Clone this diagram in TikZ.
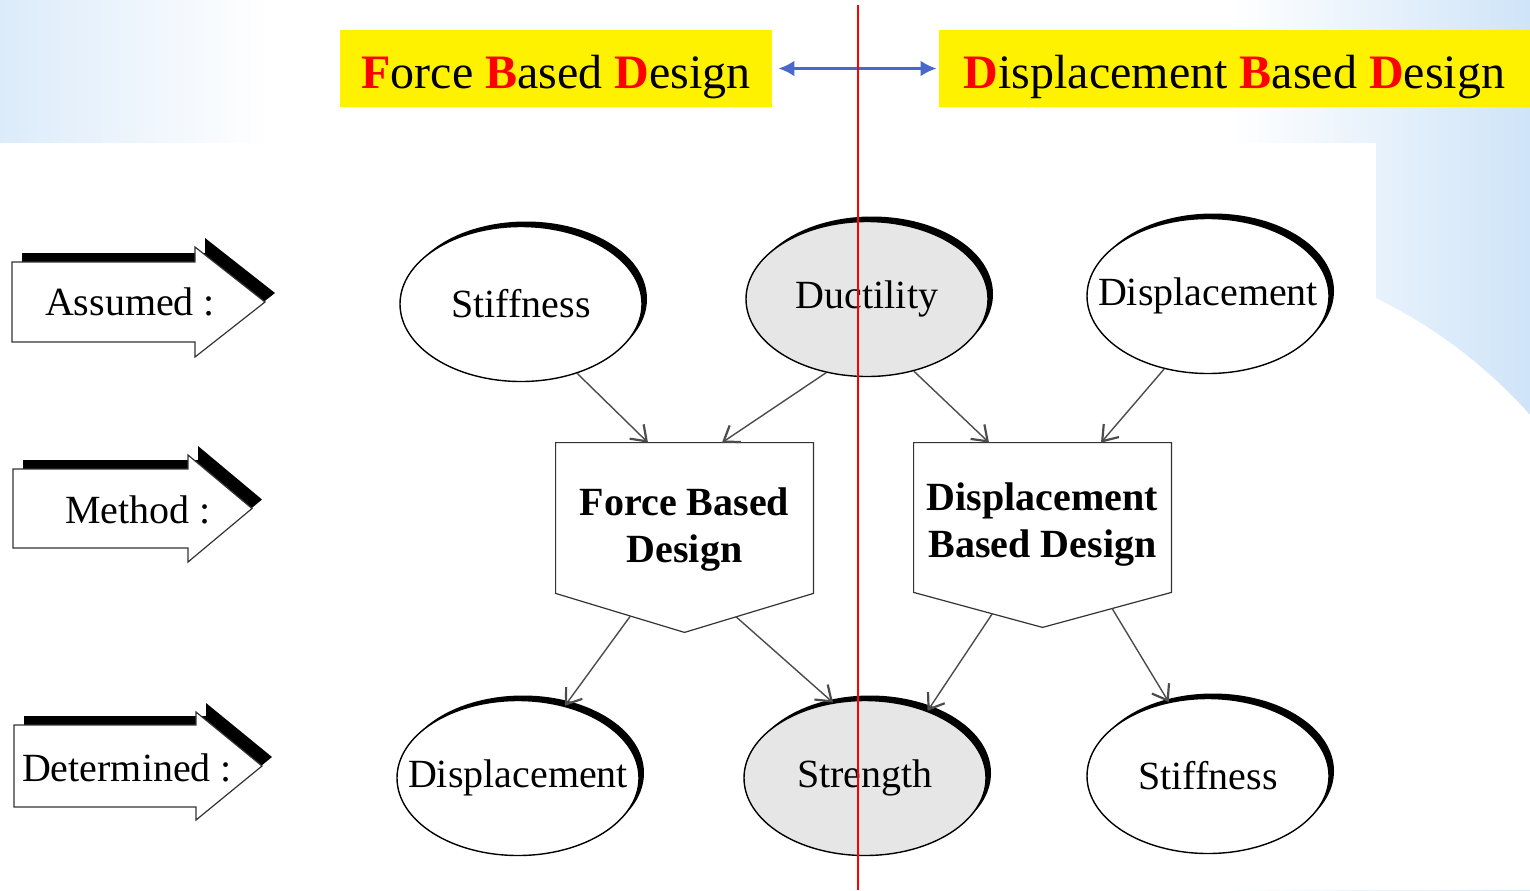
\documentclass[tikz,border=0pt]{standalone}
\usepackage{fontspec}
\setmainfont{Liberation Serif}
\usetikzlibrary{shapes.geometric, shadows, arrows.meta, calc}

\definecolor{slideblue}{HTML}{DCEBFA}
\definecolor{slideblueR}{HTML}{CFE4F8}
\definecolor{ovalgrey}{HTML}{E6E6E6}
\definecolor{linkblue}{HTML}{4A68CC}
\newcommand{\redinit}[1]{\textbf{\color{red}#1}}

\tikzset{
  oval/.style={ellipse, draw=black, line width=0.7pt, fill=white, minimum width=121pt, minimum height=77.5pt,
    inner sep=0pt, font=\fontsize{20}{24}\selectfont,
    drop shadow={shadow xshift=2.5pt, shadow yshift=2.5pt, opacity=1, fill=black}},
  greyoval/.style={oval, fill=ovalgrey},
  % text part of the pentagon boxes, top edge = north
  designbox/.style={minimum width=128.5pt, inner sep=0pt, align=center,
    font=\fontsize{20}{23.5}\selectfont\bfseries},
  boxline/.style={draw=black!80, line width=0.6pt},
  link/.style={draw=black!70, line width=0.7pt, -{Straight Barb[length=7pt,width=10pt,line width=1.1pt]}},
  titlebox/.style={fill=yellow, minimum height=38.5pt, inner sep=0pt, text height=19.5pt, text depth=0pt,
    font=\fontsize{24}{28}\selectfont},
  sidelabel/.style={inner sep=0pt, font=\fontsize{20}{24}\selectfont},
  arrowline/.style={draw=black!80, line width=0.6pt, fill=white}
}

\begin{document}
\begin{tikzpicture}[x={(0.5pt,0)}, y={(0,-0.5pt)}]
\useasboundingbox (0,0) rectangle (1530,890);

% slide background
\fill[white] (0,0) rectangle (1530,890);
\shade[left color=slideblue, right color=white] (0,0) rectangle (270,143);
\shade[left color=white, right color=slideblueR] (1230,0) rectangle (1530,890);
\fill[white] (0,143) rectangle (1376,890);
\fill[white] (1376,298) .. controls (1440,330) and (1490,370) .. (1530,415) -- (1530,890) -- (1376,890) -- cycle;

% headings
\node[titlebox, minimum width=216pt] (fbdtitle) at (556,68.5) {\redinit{F}orce \redinit{B}ased \redinit{D}esign};
\node[titlebox, minimum width=295.5pt] (dbdtitle) at (1234.5,68.5) {\redinit{D}isplacement \redinit{B}ased \redinit{D}esign};
\draw[linkblue, line width=1.5pt, {Latex[length=8pt,width=8pt]}-{Latex[length=8pt,width=8pt]},
  shorten <=3pt, shorten >=1pt] (fbdtitle.east) -- (dbdtitle.west);

% block arrows on the left: left, top, bottom, head base, head extend, tip
\foreach \l/\t/\b/\h/\e/\x in {12/262/342/195/15/265, 13/469/548/188/14/252, 14/725/807/196/13/262}{
  \fill[black, shift={(10,-9)}] (\l,\t) -- (\h,\t) -- (\h,\t-\e) -- (\x,{(\t+\b)/2}) -- (\h,\b+\e) -- (\h,\b) -- (\l,\b) -- cycle;
  \draw[arrowline] (\l,\t) -- (\h,\t) -- (\h,\t-\e) -- (\x,{(\t+\b)/2}) -- (\h,\b+\e) -- (\h,\b) -- (\l,\b) -- cycle;
}
\node[sidelabel] (assumed) at (130,302) {Assumed :};
\node[sidelabel] (method) at (138,510) {Method :};
\node[sidelabel] (determined) at (127,768) {Determined :};

% assumed quantities
\node[oval] (stiff1) at (521,304) {Stiffness};
\node[greyoval] (duct) at (867,299) {Ductility};
\node[oval] (disp1) at (1208,296) {\makebox[0pt]{Displacement}};

% design methods
\node[designbox, minimum height=87pt] (fbd) at (684.5,530) {Force Based\\Design};
\coordinate (fbdl) at ([yshift=12pt]fbd.south west);
\coordinate (fbdr) at ([yshift=12pt]fbd.south east);
\coordinate (fbdtip) at ([yshift=-7.5pt]fbd.south);
\draw[boxline] (fbd.north west) -- (fbd.north east) -- (fbdr) -- (fbdtip) -- (fbdl) -- cycle;

\node[designbox, minimum height=82pt] (dbd) at (1042.5,525) {Displacement\\Based Design};
\coordinate (dbdl) at ([yshift=7.5pt]dbd.south west);
\coordinate (dbdr) at ([yshift=7.5pt]dbd.south east);
\coordinate (dbdtip) at ([yshift=-10pt]dbd.south);
\draw[boxline] (dbd.north west) -- (dbd.north east) -- (dbdr) -- (dbdtip) -- (dbdl) -- cycle;

% determined quantities
\node[oval] (disp2) at (518,778) {\makebox[0pt]{Displacement}};
\node[greyoval] (strength) at (865,778) {Strength};
\node[oval] (stiff2) at (1208,776) {Stiffness};

% links
\draw[link] (stiff1.-51) -- ([xshift=-18.25pt]fbd.north);
\draw[link] (duct.-119) -- ([xshift=18.75pt]fbd.north);
\draw[link] (duct.-57) -- ([xshift=-26.75pt]dbd.north);
\draw[link] (disp1.-121) -- ([xshift=29.25pt]dbd.north);
\draw[link] ($(fbdl)!0.58!(fbdtip)$) -- (disp2.57);
\draw[link] ($(fbdtip)!0.4!(fbdr)$) -- (strength.113);
\draw[link] ($(dbdl)!0.61!(dbdtip)$) -- (strength.47);
\draw[link] ($(dbdtip)!0.54!(dbdr)$) -- (stiff2.118);

% divider
\draw[red, line width=1pt] (858,5) -- (858,890);
\end{tikzpicture}
\end{document}
